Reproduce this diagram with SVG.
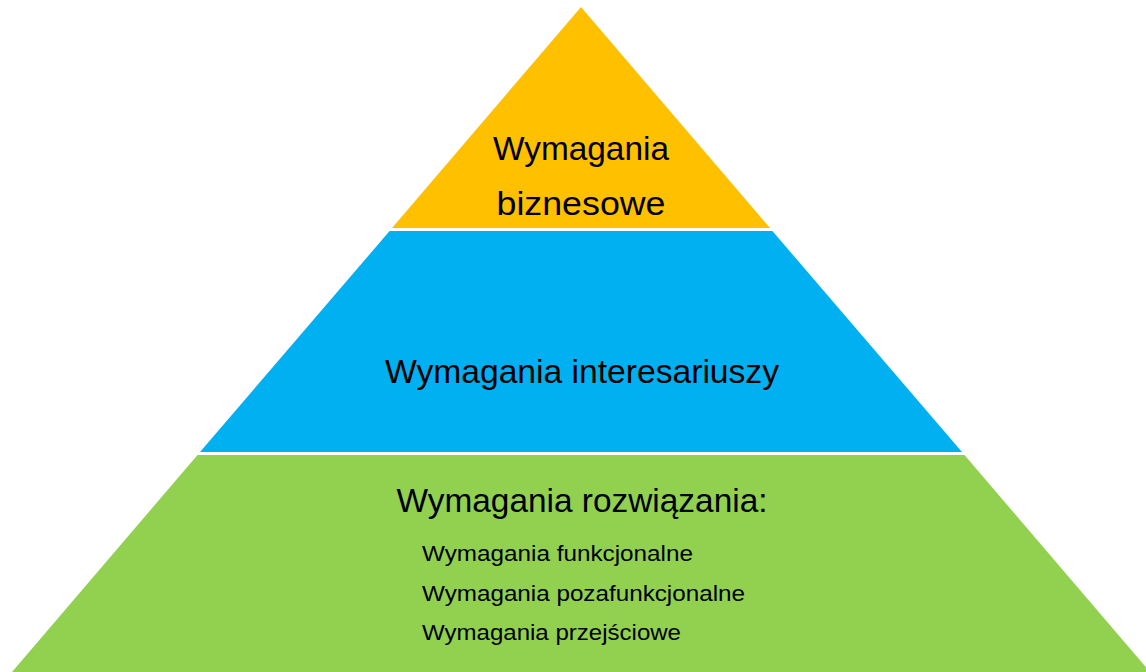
<svg xmlns="http://www.w3.org/2000/svg" width="1146" height="672" viewBox="0 0 1146 672">
<style>
text{font-family:"Liberation Sans","Noto Sans",Arial,sans-serif;fill:#000}
.big{font-size:34px}
.small{font-size:22px}
</style>
<rect width="1146" height="672" fill="#fff"/>
<g id="top">
<polygon points="581,7 392,228 770,228" fill="#FFC000"/>
<text class="big" x="581" y="160" text-anchor="middle" textLength="176" lengthAdjust="spacingAndGlyphs">Wymagania</text>
<text class="big" x="581" y="215" text-anchor="middle" textLength="169" lengthAdjust="spacingAndGlyphs">biznesowe</text>
</g>
<g id="middle">
<polygon points="389.6,231 772.4,231 962,452 200,452" fill="#00B0F0"/>
<text class="big" x="582" y="383" text-anchor="middle" textLength="394" lengthAdjust="spacingAndGlyphs">Wymagania interesariuszy</text>
</g>
<g id="bottom">
<polygon points="197.5,455 964.5,455 1150,672 12,672" fill="#92D050"/>
<text class="big" x="582" y="512" text-anchor="middle" textLength="371" lengthAdjust="spacingAndGlyphs">Wymagania rozwiązania:</text>
<text class="small" x="422" y="561" textLength="271" lengthAdjust="spacingAndGlyphs">Wymagania funkcjonalne</text>
<text class="small" x="422" y="601" textLength="323" lengthAdjust="spacingAndGlyphs">Wymagania pozafunkcjonalne</text>
<text class="small" x="422" y="640" textLength="259" lengthAdjust="spacingAndGlyphs">Wymagania przejściowe</text>
</g>
<g id="connectors"/>
</svg>
